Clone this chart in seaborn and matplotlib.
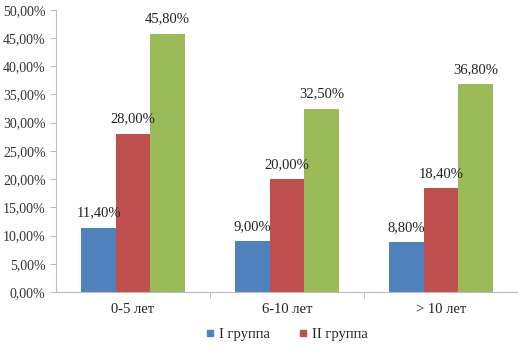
import seaborn as sns
import matplotlib.pyplot as plt
import pandas as pd
from matplotlib.lines import Line2D

categories = ['0-5 лет', '6-10 лет', '> 10 лет']
groups = ['I группа', 'II группа', 'III группа']
group1 = [11.4, 9.0, 8.8]
group2 = [28.0, 20.0, 18.4]
group3 = [45.8, 32.5, 36.8]
colors = ['#4F81BD', '#C0504D', '#9BBB59']

rows = []
for g, vals in zip(groups, [group1, group2, group3]):
    for c, v in zip(categories, vals):
        rows.append({'cat': c, 'group': g, 'value': v})
df = pd.DataFrame(rows)

sns.set_style('white')
plt.rcParams['font.family'] = ['Liberation Serif', 'DejaVu Serif']

fig = plt.figure(figsize=(5.18, 3.64), dpi=100)
ax = fig.add_axes([0.108, 0.198, 0.892, 0.775])
sns.barplot(data=df, x='cat', y='value', hue='group', palette=colors,
            width=0.67, saturation=1, linewidth=0, ax=ax, legend=False)

for cont in ax.containers:
    ax.bar_label(cont, labels=[f'{b.get_height():.2f}%'.replace('.', ',') for b in cont],
                 padding=6, fontsize=10.5, color='#222222')

ax.set_ylim(0, 50)
ax.set_xlim(-0.5, 2.5)
ax.set_yticks(range(0, 51, 5))
ax.set_yticklabels([f'{v:.2f}%'.replace('.', ',') for v in range(0, 51, 5)], fontsize=10, color='#333333')
ax.set_xticks(range(3))
ax.set_xticklabels(categories, fontsize=10.5, color='#222222')
ax.set_xticks([0.5, 1.5], minor=True)
ax.tick_params(axis='x', which='major', length=0, pad=8)
ax.tick_params(axis='x', which='minor', length=4, color='#BBBBBB', direction='out', bottom=True)
ax.tick_params(axis='y', length=4, color='#BBBBBB', direction='out', left=True)
ax.set_xlabel('')
ax.set_ylabel('')
for s in ['top', 'right']:
    ax.spines[s].set_visible(False)
for s in ['left', 'bottom']:
    ax.spines[s].set_color('#BBBBBB')

handles = [Line2D([], [], marker='s', linestyle='', color=colors[i], markersize=5) for i in range(2)]
fig.legend(handles, groups[:2], loc='center', bbox_to_anchor=(0.553, 0.08), ncol=2,
           frameon=False, fontsize=10.5, handlelength=0.6, handletextpad=0.3, columnspacing=2.0)

fig.savefig('out.png', dpi=100)
